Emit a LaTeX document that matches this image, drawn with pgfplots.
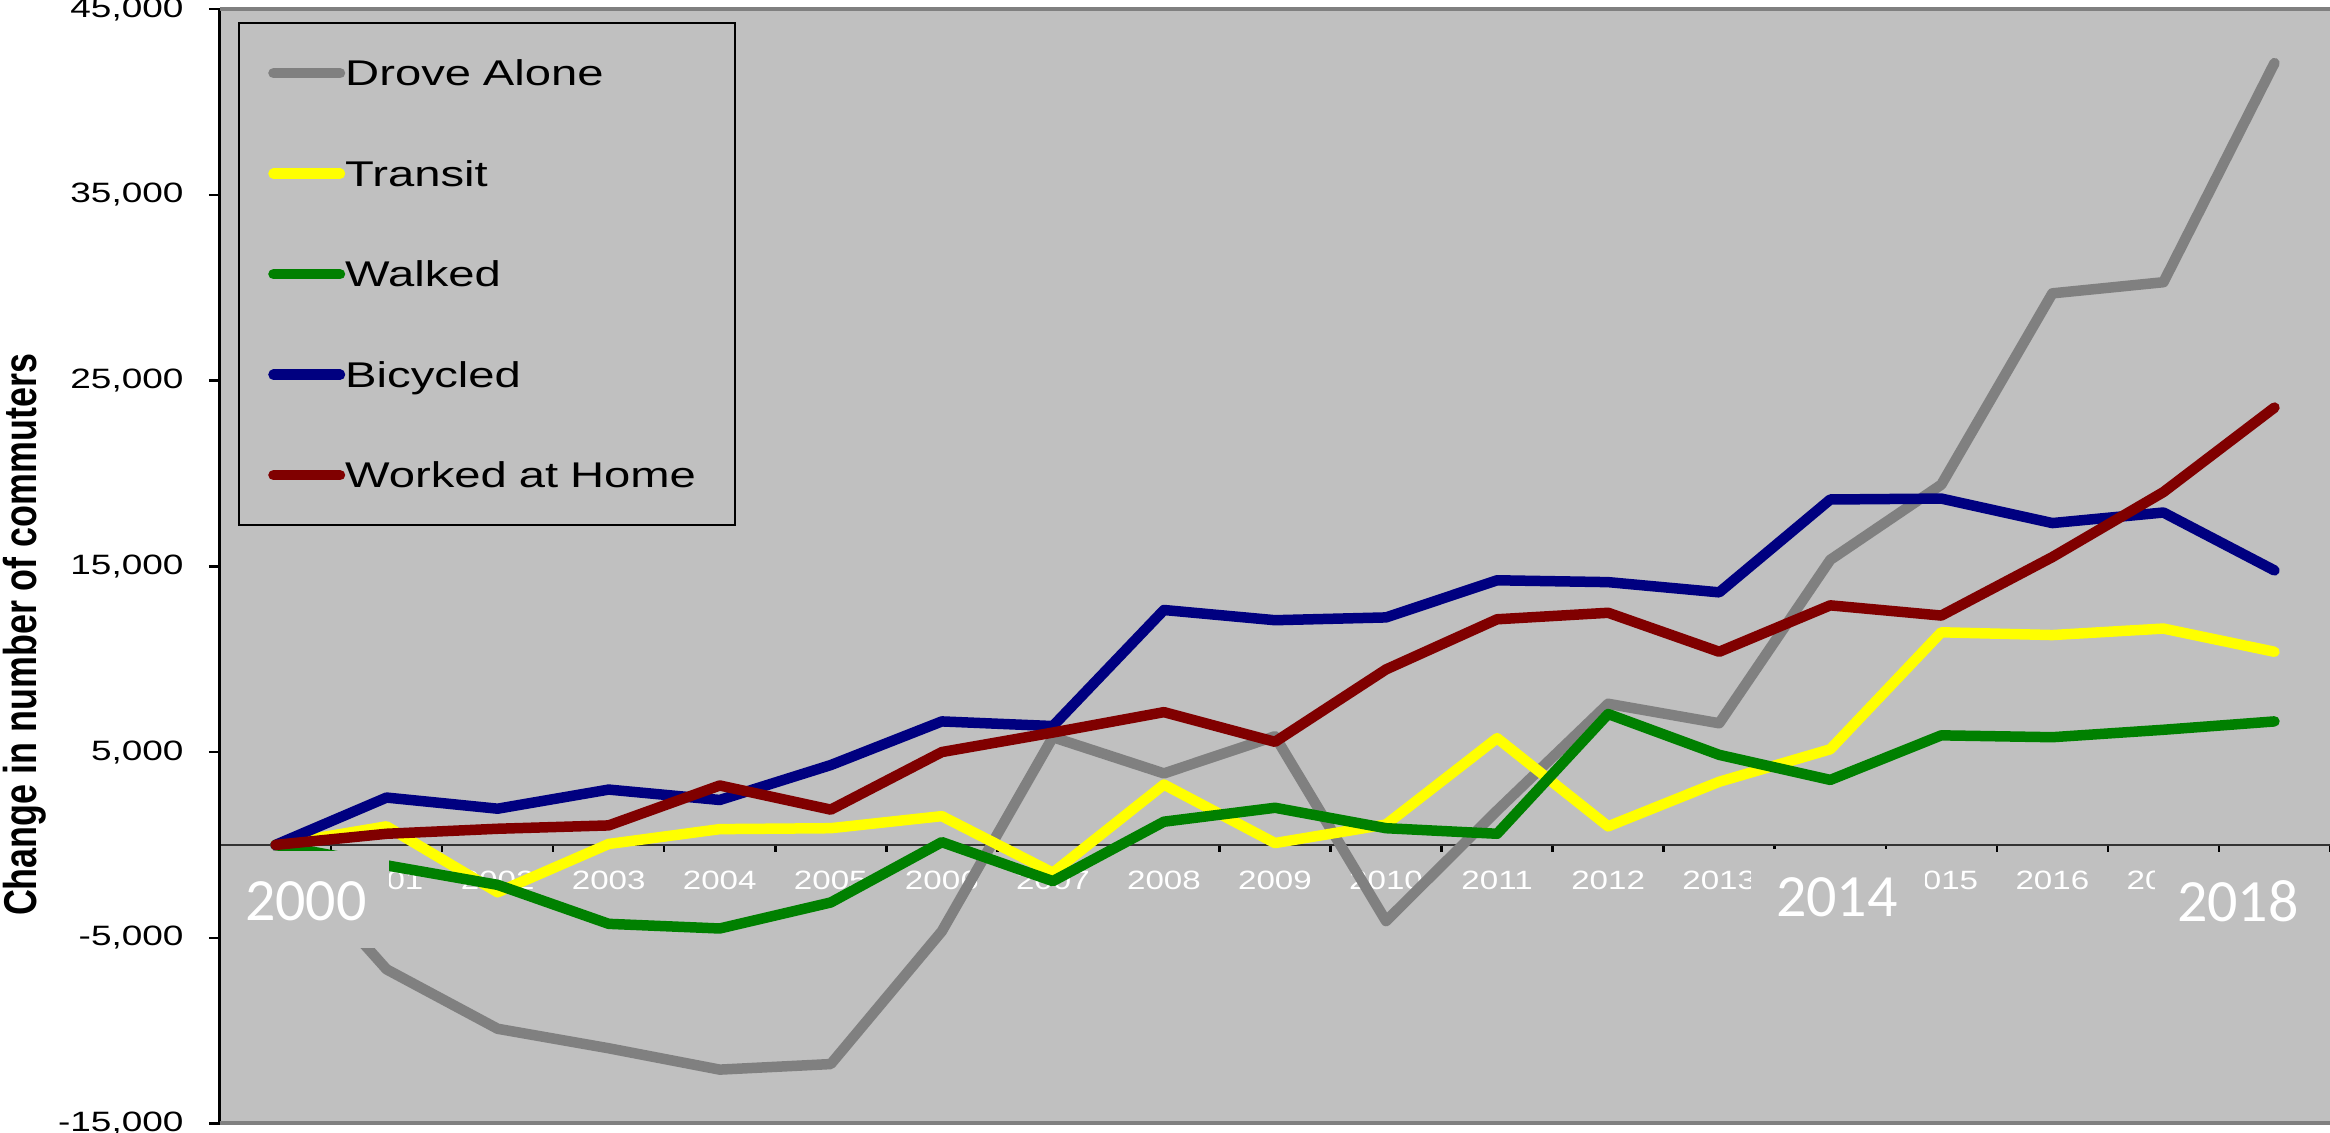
\documentclass[border=0pt]{standalone}
\usepackage{fontspec}
\setmainfont{Liberation Sans}
\newfontfamily\tickfont[FakeStretch=1.32]{Liberation Sans}
\newfontfamily\xtfont[FakeStretch=1.25]{Liberation Sans}
\newfontfamily\labfont[FakeStretch=0.78]{Liberation Sans}
\newfontfamily\bigfont{Carlito}
\usepackage{pgfplots}
\pgfplotsset{compat=1.18}
\usepackage{pgfplotstable}
\usetikzlibrary{backgrounds}

\definecolor{plotbg}{HTML}{C0C0C0}
\definecolor{framegray}{HTML}{808080}
\definecolor{cDA}{HTML}{808080}
\definecolor{cTR}{HTML}{FFFF00}
\definecolor{cWK}{HTML}{008000}
\definecolor{cBC}{HTML}{000080}
\definecolor{cWH}{HTML}{800000}

\pgfplotstableread{
x DA TR WK BC WH
0 0 0 0 0 0
1 -6700 1000 -1100 2550 600
2 -9900 -2550 -2150 1950 870
3 -10950 50 -4250 2980 1050
4 -12100 850 -4500 2420 3200
5 -11800 900 -3100 4300 1900
6 -4650 1550 150 6650 5000
7 5800 -1500 -1950 6400 6050
8 3850 3250 1250 12650 7150
9 5850 100 2000 12100 5550
10 -4100 1100 900 12250 9450
11 1850 5750 600 14250 12150
12 7600 1000 7050 14150 12500
13 6550 3400 4850 13600 10400
14 15350 5150 3500 18600 12900
15 19400 11450 5900 18650 12350
16 29700 11300 5800 17330 15500
17 30300 11650 6200 17900 19000
18 42100 10400 6650 14780 23550
}\datatable

\begin{document}
\begin{tikzpicture}
\begin{axis}[
  name=ax,
  scale only axis, width=844pt, height=445.7pt,
  xmin=-0.5, xmax=18.5, ymin=-15000, ymax=45000,
  axis x line=middle, axis y line=left,
  axis line style={-},
  x axis line style={draw=black!80, line width=0.8pt},
  y axis line style={draw=black, line width=1.2pt},
  axis background/.style={fill=plotbg},
  xtick={0,...,18},
  xticklabels={2000,2001,2002,2003,2004,2005,2006,2007,2008,2009,2010,2011,2012,2013,2014,2015,2016,2017,2018},
  major x tick style={draw=none},
  minor xtick={-0.5,0.5,...,18.5},
  minor x tick style={draw=black, line width=1pt},
  minor tick length=2.8pt,
  xtick align=outside,
  ytick={-15000,-5000,5000,15000,25000,35000,45000},
  yticklabels={{-15,000},{-5,000},{5,000},{15,000},{25,000},{35,000},{45,000}},
  ytick align=outside,
  major tick length=4.4pt,
  y tick style={draw=black, line width=1pt},
  yticklabel style={font=\tickfont\fontsize{11.2}{13}\selectfont, anchor=east, inner sep=0pt, xshift=-10pt},
  xticklabel style={font=\xtfont\fontsize{10.6}{12}\selectfont, text=white, anchor=north, inner sep=0pt, yshift=-6pt},
  ylabel={Change in number of commuters},
  ylabel style={font=\labfont\bfseries\fontsize{18.4}{20}\selectfont, at={(axis description cs:-0.0924,0.4385)}, anchor=center},
  legend cell align=left,
  legend style={at={(0,1)}, anchor=north west, xshift=7.2pt, yshift=-5.1pt,
    draw=black, line width=0.8pt, fill=plotbg, inner sep=0pt, row sep=0pt, column sep=0pt,
    font=\tickfont\fontsize{14.3}{16}\selectfont,
    nodes={inner sep=0pt, text height=25.1pt, text depth=15.1pt, text width=155.8pt, align=left}},
  legend image code/.code={\path (-9.6pt,0pt) (25.8pt,0pt); \draw[#1, line cap=round] (2.1pt,0pt) -- (28.7pt,0pt);},
  every axis plot/.append style={line width=4.2pt, line join=round, line cap=round},
]
\addplot[cDA] table[x=x,y=DA]{\datatable};
\addlegendentry{Drove Alone}
\addplot[cTR] table[x=x,y=TR]{\datatable};
\addlegendentry{Transit}
\addplot[cWK] table[x=x,y=WK]{\datatable};
\addlegendentry{Walked}
\addplot[cBC] table[x=x,y=BC]{\datatable};
\addlegendentry{Bicycled}
\addplot[cWH] table[x=x,y=WH]{\datatable};
\addlegendentry{Worked at Home}

\fill[plotbg] (axis cs:-0.32,-323) rectangle (axis cs:1.022,-5547);
\fill[plotbg] (axis cs:13.286,-215) rectangle (axis cs:14.853,-4847);
\fill[plotbg] (axis cs:16.925,-431) rectangle (axis cs:18.4,-5116);
\node[text=white, font=\bigfont\fontsize{24}{26}\selectfont, inner sep=0pt] at (axis cs:0.274,-3016) {2000};
\node[text=white, font=\bigfont\fontsize{24}{26}\selectfont, inner sep=0pt] at (axis cs:14.06,-2800) {2014};
\node[text=white, font=\bigfont\fontsize{24}{26}\selectfont, inner sep=0pt] at (axis cs:17.67,-3016) {2018};
\end{axis}
\draw[framegray, line width=1.6pt] (ax.north west) -- (ax.north east);
\draw[framegray, line width=1.6pt] (ax.south west) -- (ax.south east);
\pgfresetboundingbox
\path[use as bounding box] ([shift={(-88pt,-3.8pt)}]ax.south west) rectangle ([shift={(0pt,3.7pt)}]ax.north east);
\begin{scope}[on background layer]
\fill[white] ([shift={(-88pt,-3.8pt)}]ax.south west) rectangle ([shift={(0pt,3.7pt)}]ax.north east);
\end{scope}
\end{tikzpicture}
\end{document}
